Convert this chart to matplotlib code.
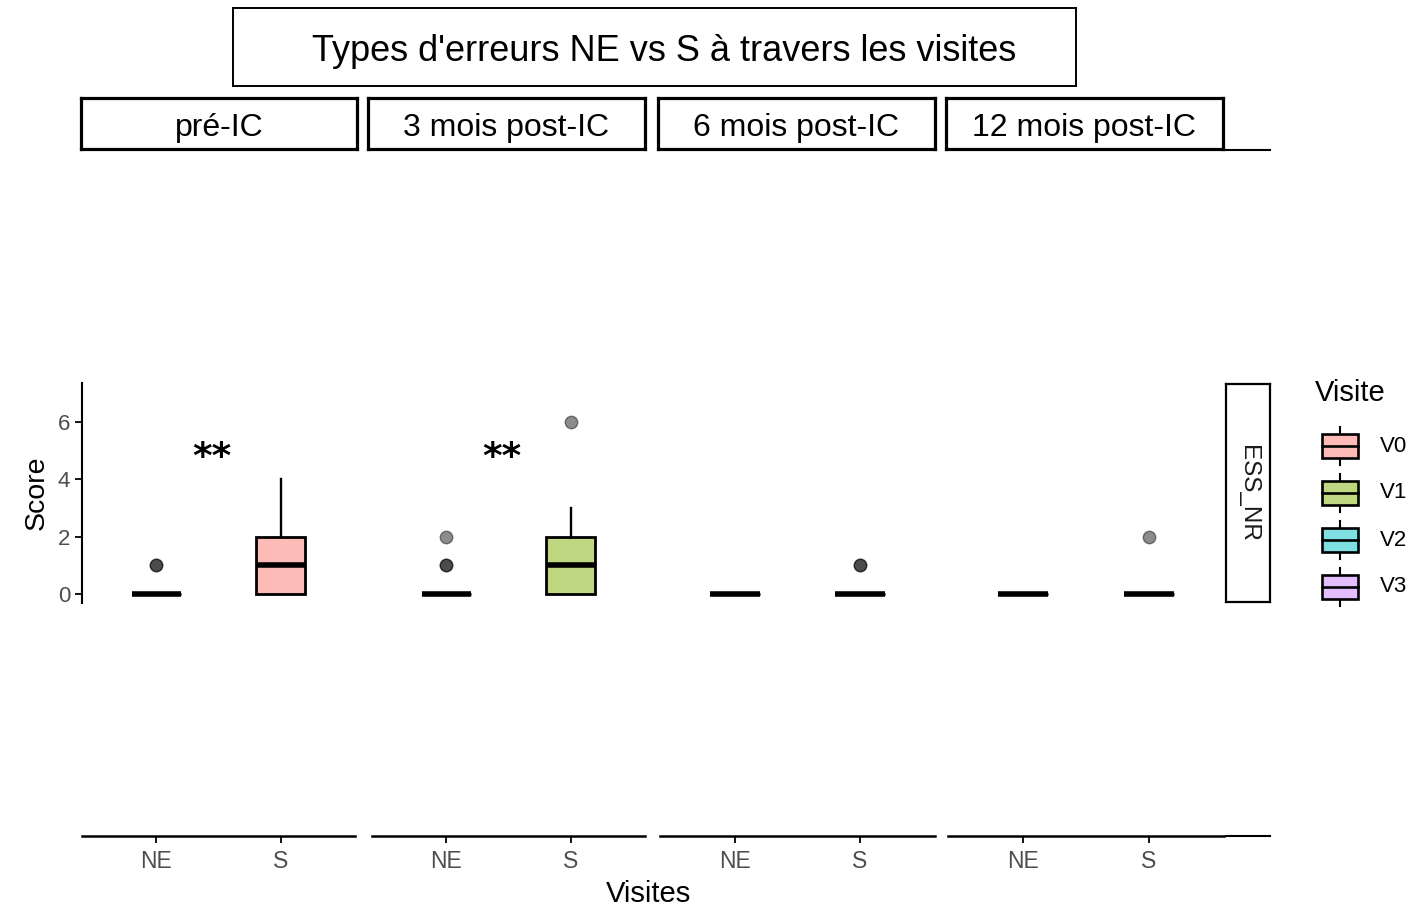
import numpy as np
import matplotlib.pyplot as plt
from matplotlib.lines import Line2D
from matplotlib.patches import Rectangle
from matplotlib.colors import to_rgb

plt.rcParams['font.family'] = ['Liberation Sans', 'DejaVu Sans']

W, H = 1419, 906

# --- donnees ---
types_erreur = ["NE", "S"]
panneaux = ["pré-IC", "3 mois post-IC", "6 mois post-IC", "12 mois post-IC"]
visites = ["V0", "V1", "V2", "V3"]
couleurs = ["#F8766D", "#7CAE00", "#00BFC4", "#C77CFF"]

# resume des boites : une ligne par visite, colonnes NE / S
q1 = [[0, 0], [0, 0], [0, 0], [0, 0]]
mediane = [[0, 1], [0, 1], [0, 0], [0, 0]]
q3 = [[0, 2], [0, 2], [0, 0], [0, 0]]
moust_bas = [[0, 0], [0, 0], [0, 0], [0, 0]]
moust_haut = [[0, 4], [0, 3], [0, 0], [0, 0]]
aberrants = [[[1, 1], []],
             [[1, 1, 2], [6]],
             [[], [1, 1]],
             [[], [2]]]
signif = ["**", "**", "", ""]
y_signif = 4.75


def px_axes(x0, y0, x1, y1):
    return fig.add_axes([x0 / W, 1 - y1 / H, (x1 - x0) / W, (y1 - y0) / H])


def pale(c):
    # couleur de remplissage avec alpha 0.5 sur fond blanc
    return 0.5 * np.array(to_rgb(c)) + 0.5


fig = plt.figure(figsize=(W / 100, H / 100), dpi=100)

# titre encadre
tax = px_axes(233, 8, 1076, 86)
tax.set_xticks([]); tax.set_yticks([])
for s in tax.spines.values():
    s.set_linewidth(1.4)
tax.text(0.511, 0.44, "Types d'erreurs NE vs S à travers les visites",
         ha="center", va="center", fontsize=26, transform=tax.transAxes)

bornes = [(82, 355), (372, 645), (660, 935), (948, 1224)]
strips = [(81, 357), (368, 645), (658, 935), (946, 1223)]

for i, nom in enumerate(panneaux):
    x0, x1 = bornes[i]
    ax = px_axes(x0, 383, x1, 603)
    ax.set_xlim(0.4, 2.6)
    ax.set_ylim(-0.31, 7.36)
    stats = []
    for j, t in enumerate(types_erreur):
        stats.append(dict(label=t, q1=q1[i][j], med=mediane[i][j], q3=q3[i][j],
                          whislo=moust_bas[i][j], whishi=moust_haut[i][j],
                          fliers=aberrants[i][j]))
    bp = ax.bxp(stats, positions=[1, 2], widths=0.4, patch_artist=True,
                showcaps=False,
                boxprops=dict(linewidth=2.0, edgecolor="black"),
                whiskerprops=dict(linewidth=1.7, color="black"),
                medianprops=dict(linewidth=4, color="black", solid_capstyle="butt"),
                flierprops=dict(marker="o", markersize=9, markerfacecolor="black",
                                markeredgecolor="black", alpha=0.45, linestyle="none"))
    for b in bp["boxes"]:
        b.set_facecolor(pale(couleurs[i]))
    if signif[i]:
        ax.text(1.45, y_signif, signif[i], ha="center", va="center",
                fontsize=27, fontweight="bold", family="DejaVu Sans")
    ax.set_xticks([])
    for s in ["top", "right", "bottom"]:
        ax.spines[s].set_visible(False)
    if i == 0:
        ax.spines["left"].set_linewidth(1.5)
        ax.set_yticks([0, 2, 4, 6])
        ax.tick_params(axis="y", labelsize=16, labelcolor="#4D4D4D",
                       width=1.3, length=5)
        ax.set_ylabel("Score", fontsize=20.5, labelpad=6)
    else:
        ax.spines["left"].set_visible(False)
        ax.set_yticks([])
    ax.patch.set_alpha(0)

    # axe des x en bas du panneau
    bx = px_axes(x0, 826, x1, 836)
    bx.set_xlim(0.4, 2.6)
    bx.set_yticks([])
    bx.set_xticks([1, 2])
    bx.set_xticklabels(types_erreur)
    bx.tick_params(axis="x", labelsize=16.5, labelcolor="#4D4D4D", width=1.3,
                   length=5, pad=5)
    for s in ["top", "right", "left"]:
        bx.spines[s].set_visible(False)
    bx.spines["bottom"].set_linewidth(1.8)
    bx.patch.set_alpha(0)

    # bandeau du panneau
    sx0, sx1 = strips[i]
    sax = px_axes(sx0, 98, sx1, 149)
    sax.set_xticks([]); sax.set_yticks([])
    for s in sax.spines.values():
        s.set_linewidth(2.3)
    sax.text(0.5, 0.42, nom, ha="center", va="center", fontsize=23,
             transform=sax.transAxes)

fig.text(648 / W, 1 - 894 / H, "Visites", ha="center", va="center", fontsize=21)

# bandeau de droite
rax = px_axes(1226, 384, 1270, 602)
rax.set_xticks([]); rax.set_yticks([])
for s in rax.spines.values():
    s.set_linewidth(1.6)
rax.text(0.5, 0.5, "ESS_NR", rotation=-90, ha="center", va="center",
         fontsize=17.5, color="#1A1A1A", transform=rax.transAxes)
fig.add_artist(Line2D([1226 / W, 1270 / W], [1 - 150 / H] * 2, color="black", lw=1.5))
fig.add_artist(Line2D([1226 / W, 1270 / W], [1 - 836 / H] * 2, color="black", lw=1.5))

# legende
lax = px_axes(1300, 370, 1419, 610)
lax.set_xlim(0, 119)
lax.set_ylim(240, 0)
lax.axis("off")
lax.text(15, 23, "Visite", fontsize=21, va="center", ha="left")
for k, v in enumerate(visites):
    yc = 76 + 47 * k
    lax.plot([40, 40], [yc - 19, yc + 19], color="black", lw=1.5)
    lax.add_patch(Rectangle((22, yc - 12), 36, 24, facecolor=pale(couleurs[k]),
                            edgecolor="black", lw=1.9, zorder=3))
    lax.plot([22, 58], [yc, yc], color="black", lw=1.9, zorder=4)
    lax.text(80, yc, v, fontsize=16, va="center", ha="left")

fig.savefig("out.png", dpi=100)
